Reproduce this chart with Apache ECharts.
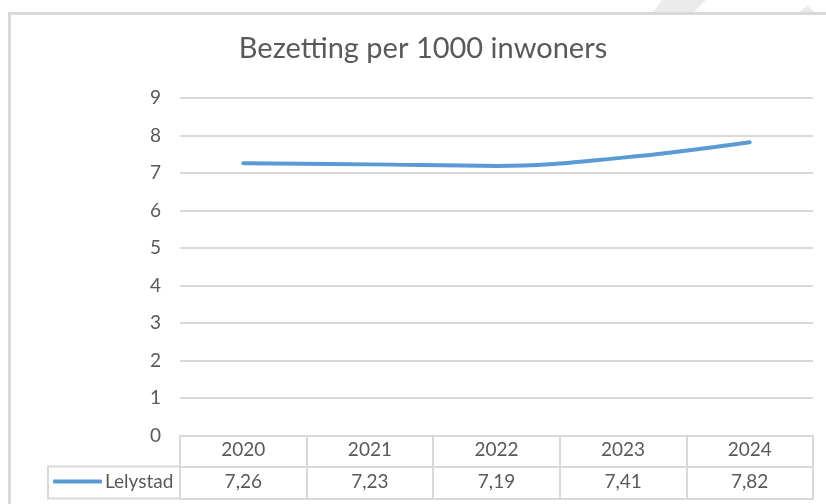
<!DOCTYPE html>
<html>
<head>
<meta charset="utf-8">
<script src="https://cdn.jsdelivr.net/npm/echarts@6/dist/echarts.min.js"></script>
<style>
  html, body { margin: 0; padding: 0; background: #fff; }
  #chart { width: 826px; height: 504px; }
</style>
</head>
<body>
<div id="chart"></div>
<script>
const years = ['2020', '2021', '2022', '2023', '2024']
const lelystad = [7.26, 7.23, 7.19, 7.41, 7.82]
const yTicks = [0, 1, 2, 3, 4, 5, 6, 7, 8, 9]

const grey = '#d9d9d9'
const textColor = '#595959'
const font = 'Lato, "Noto Sans", sans-serif'

// Excel-style decimal comma
function fmt(v) {
  return v.toFixed(2).replace('.', ',')
}

const chart = echarts.init(document.getElementById('chart'))
chart.setOption({
  animation: false,
  textStyle: { fontFamily: font },
  title: {
    text: 'Bezetting per 1000 inwoners',
    left: 423,
    top: 34,
    textAlign: 'center',
    padding: 0,
    textStyle: { fontSize: 29, fontWeight: 'normal', color: textColor, fontFamily: font },
  },
  legend: {
    data: ['Lelystad'],
    left: 53,
    top: 472,
    padding: 0,
    icon: 'roundRect',
    itemWidth: 49,
    itemHeight: 4,
    textStyle: { fontSize: 19, color: textColor, fontFamily: font, padding: [0, 0, 0, -2] },
  },
  grid: { left: 180, right: 13, top: 98, bottom: 68.5 },
  xAxis: [
    {
      type: 'category',
      data: years,
      boundaryGap: true,
      axisLine: { lineStyle: { color: grey, width: 2 } },
      axisTick: { show: true, interval: 0, length: 63, lineStyle: { color: grey, width: 2 } },
      axisLabel: { fontSize: 19, color: textColor, margin: 5, interval: 0 },
    },
    {
      type: 'category',
      data: years,
      position: 'bottom',
      offset: 31,
      axisLine: { lineStyle: { color: grey, width: 2 } },
      axisTick: { show: false },
      axisLabel: {
        fontSize: 19, color: textColor, margin: 6, interval: 0,
        formatter: (v, i) => fmt(lelystad[i]),
      },
    },
    {
      type: 'category',
      data: years,
      position: 'bottom',
      offset: 63,
      axisLine: { lineStyle: { color: grey, width: 2 } },
      axisTick: { show: false },
      axisLabel: { show: false },
    },
  ],
  yAxis: {
    type: 'value',
    min: yTicks[0],
    max: yTicks[yTicks.length - 1],
    interval: 1,
    axisLine: { show: false },
    axisTick: { show: false },
    axisLabel: { fontSize: 19, color: textColor, margin: 19 },
    splitLine: { lineStyle: { color: grey, width: 2 } },
  },
  series: [
    {
      name: 'Lelystad',
      type: 'line',
      data: lelystad,
      smooth: 0.4,
      showSymbol: false,
      symbol: 'none',
      lineStyle: { color: '#5b9bd5', width: 4, cap: 'round' },
      itemStyle: { color: '#5b9bd5' },
    },
  ],
  graphic: [
    // background artefacts above the chart frame
    { type: 'polygon', shape: { points: [[662, 0], [706, 0], [694, 12], [653, 12]] }, style: { fill: '#ebebeb' }, silent: true },
    { type: 'polygon', shape: { points: [[800, 12], [808, 5], [814, 12]] }, style: { fill: '#ebebeb' }, silent: true },
    // chart frame
    { type: 'rect', shape: { x: 9.5, y: 13.5, width: 1000, height: 1000 }, style: { fill: 'none', stroke: grey, lineWidth: 3 }, silent: true },
    // legend cell of the data table
    { type: 'line', shape: { x1: 48, y1: 466.5, x2: 180, y2: 466.5 }, style: { stroke: grey, lineWidth: 2 }, silent: true },
    { type: 'line', shape: { x1: 48, y1: 498.5, x2: 180, y2: 498.5 }, style: { stroke: grey, lineWidth: 2 }, silent: true },
    { type: 'line', shape: { x1: 48, y1: 465.5, x2: 48, y2: 499.5 }, style: { stroke: grey, lineWidth: 2 }, silent: true },
  ],
})
</script>
</body>
</html>
